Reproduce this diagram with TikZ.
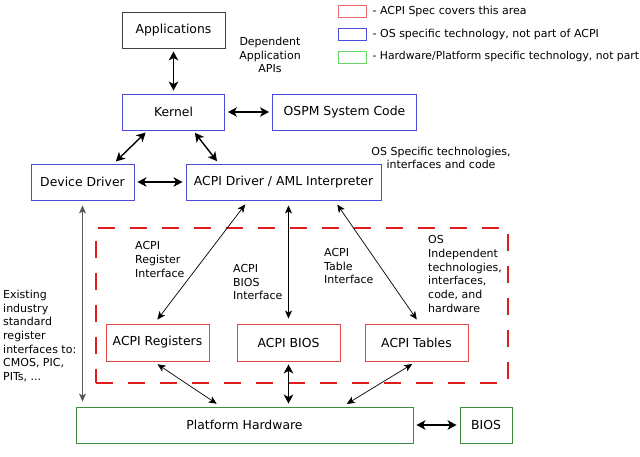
\documentclass[tikz,border=0pt]{standalone}
\usepackage{fontspec}
\setmainfont{DejaVu Sans}
\usepackage{xcolor}
\usepackage{tikz}
\usetikzlibrary{shapes, arrows.meta, positioning, calc}

\definecolor{specred}{RGB}{228,70,70}
\definecolor{osblue}{RGB}{75,75,215}
\definecolor{hwgreen}{RGB}{60,140,60}
\definecolor{lgreen}{RGB}{100,215,100}
\definecolor{dashred}{RGB}{222,30,30}

\begin{document}
\begin{tikzpicture}[x=1pt, y=-1pt, node distance=80pt, font=\fontsize{11}{13.7}\selectfont]
        \tikzstyle{block} = [draw, rectangle, line width=0.9pt, minimum height=36pt, inner sep=2pt, font=\fontsize{12.4}{14}\selectfont]
        \tikzstyle{osblock} = [block, draw=osblue]
        \tikzstyle{specblock} = [block, draw=specred, minimum width=103pt, minimum height=37pt]
        \tikzstyle{hwblock} = [block, draw=hwgreen]
        \tikzstyle{note} = [inner sep=0pt, align=left, anchor=west]
        \tikzstyle{bigarrow} = [{Stealth[length=9pt,width=9.5pt,inset=2.5pt]}-{Stealth[length=9pt,width=9.5pt,inset=2.5pt]}, line width=1.4pt, shorten <=3pt, shorten >=3pt]
        \tikzstyle{thinarrow} = [{Stealth[length=8pt,width=7pt,inset=2pt]}-{Stealth[length=8pt,width=7pt,inset=2pt]}, line width=0.7pt, shorten <=5pt, shorten >=5pt]
        \tikzstyle{legendbox} = [draw, line width=0.9pt, minimum width=28pt, minimum height=12pt, inner sep=0pt]

        \useasboundingbox (0,0) rectangle (640,456);

        % --- 图例 ---
        \node [legendbox, draw=specred!80] (lgspec) at (352,11) {};
        \node [legendbox, draw=osblue, below of=lgspec, node distance=23pt] (lgos) {};
        \node [legendbox, draw=lgreen, below of=lgos, node distance=23pt] (lghw) {};
        \node [note, right=6pt of lgspec] (lgspectxt) {- ACPI Spec covers this area};
        \node [note, right=6pt of lgos] (lgostxt) {- OS specific technology, not part of ACPI};
        \node [note, right=6pt of lghw, font=\fontsize{10.8}{13}\selectfont] (lghwtxt) {- Hardware/Platform specific technology, not part};

        % --- ACPI 规范区域 (虚线框) ---
        \node [draw=dashred, line width=2.2pt, dash pattern=on 17pt off 15pt, minimum width=412pt, minimum height=155pt] (specarea) at (302,305.5) {};

        % --- 操作系统层 ---
        \node [block, draw=black!75, minimum width=103pt] (apps) at (173.5,30) {Applications};
        \node [osblock, minimum width=102pt, below of=apps, node distance=82pt] (kernel) {Kernel};
        \node [osblock, minimum width=144pt, right of=kernel, node distance=171pt] (ospm) {OSPM System Code};
        \node [osblock, minimum width=103pt] (ddrv) at (82.5,182) {Device Driver};
        \node [osblock, minimum width=195pt, right of=ddrv, node distance=201pt] (acpidrv) {ACPI Driver / AML Interpreter};

        % --- ACPI 部分 ---
        \node [specblock] (regs) at (157.5,342.5) {ACPI Registers};
        \node [specblock, right of=regs, node distance=131pt] (abios) {ACPI BIOS};
        \node [specblock, right of=abios, node distance=128pt] (tables) {ACPI Tables};

        % --- 硬件层 ---
        \node [hwblock, minimum width=337pt] (plat) at (244.5,425) {Platform Hardware};
        \node [hwblock, minimum width=52pt, right of=plat, node distance=241.5pt] (bios) {BIOS};

        % --- 说明文字 ---
        \node [align=center, inner sep=0pt] (apilbl) at (270,55) {Dependent\\Application\\APIs};
        \node [align=center, inner sep=0pt] (oslbl) at (441,158) {OS Specific technologies,\\interfaces and code};
        \node [note] (reglbl) at (135,259.5) {ACPI\\Register\\Interface};
        \node [note] (bioslbl) at (233,282) {ACPI\\BIOS\\Interface};
        \node [note] (tbllbl) at (324,266) {ACPI\\Table\\Interface};
        \node [note] (indlbl) at (428,274) {OS\\Independent\\technologies,\\interfaces,\\code, and\\hardware};
        \node [note] (exlbl) at (3,336) {Existing\\industry\\standard\\register\\interfaces to:\\CMOS, PIC,\\PITs, ...};

        % --- 连线: 上层 ---
        \draw [bigarrow] (apps) -- (kernel);
        \draw [bigarrow] (kernel) -- (ospm);
        \draw [bigarrow] ($(kernel.south west)!0.25!(kernel.south east)$) -- ($(ddrv.north west)!0.8!(ddrv.north east)$);
        \draw [bigarrow] ($(kernel.south west)!0.69!(kernel.south east)$) -- ($(acpidrv.north west)!0.17!(acpidrv.north east)$);
        \draw [bigarrow] (ddrv) -- (acpidrv);

        % --- 连线: 接口 ---
        \draw [thinarrow] ($(acpidrv.south west)!0.32!(acpidrv.south east)$) -- ($(regs.north west)!0.47!(regs.north east)$);
        \draw [thinarrow] (abios.north |- acpidrv.south) -- (abios.north);
        \draw [thinarrow] ($(acpidrv.south west)!0.76!(acpidrv.south east)$) -- ($(tables.north west)!0.53!(tables.north east)$);
        \draw [thinarrow, draw=black!65] (ddrv.south) -- (ddrv.south |- plat.north);

        % --- 连线: 硬件 ---
        \draw [thinarrow] ($(regs.south west)!0.46!(regs.south east)$) -- ($(plat.north west)!0.43!(plat.north east)$);
        \draw [bigarrow] (abios.south) -- (abios.south |- plat.north);
        \draw [thinarrow] ($(tables.south west)!0.5!(tables.south east)$) -- ($(plat.north west)!0.79!(plat.north east)$);
        \draw [bigarrow] (plat) -- (bios);

\end{tikzpicture}
\end{document}
